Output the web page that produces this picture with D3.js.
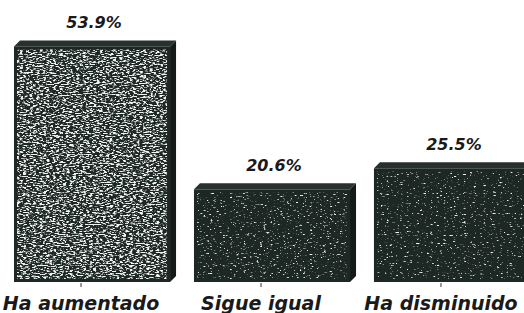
<!DOCTYPE html>
<html>
<head>
<meta charset="utf-8">
<script src="https://cdn.jsdelivr.net/npm/d3@7"></script>
<style>
  html, body { margin: 0; padding: 0; background: #fff; }
  svg { display: block; }
  .lbl { font-family: "DejaVu Sans", sans-serif; font-weight: bold; font-style: italic; fill: #1a1a1a; }
</style>
</head>
<body>
<div id="chart"></div>
<script>
const categories = ["Ha aumentado", "Sigue igual", "Ha disminuido"];
const values = [53.9, 20.6, 25.5];
const valueLabels = ["53.9%", "20.6%", "25.5%"];

const width = 524, height = 313;
const depth = 6;
const baseY = 282;

const svg = d3.select("#chart").append("svg")
  .attr("width", width).attr("height", height);

// scanned-print speckle: dense on the first bar, sparse on the others
const defs = svg.append("defs");
function speckle(id, seed, cut) {
  const f = defs.append("filter").attr("id", id)
    .attr("x", 0).attr("y", 0).attr("width", 1).attr("height", 1);
  f.append("feTurbulence").attr("type", "fractalNoise")
    .attr("baseFrequency", "0.3 0.9").attr("numOctaves", 3).attr("seed", seed).attr("result", "n");
  f.append("feColorMatrix").attr("in", "n").attr("type", "matrix")
    .attr("values", `0 0 0 0 0.88  0 0 0 0 0.9  0 0 0 0 0.89  6 0 0 0 ${-cut}`).attr("result", "w");
  f.append("feComposite").attr("in", "w").attr("in2", "SourceGraphic").attr("operator", "in");
}
speckle("sp0", 4, 2.85);
speckle("sp1", 9, 3.75);
speckle("sp2", 17, 3.85);

const x = d3.scaleBand().domain(categories).range([14, 530]).paddingInner(0.133).paddingOuter(0);
const y = d3.scaleLinear().domain([-1, 54]).range([baseY, 46]);

const bars = svg.append("g").selectAll("g.bar")
  .data(categories.map((c, i) => ({ c, v: values[i], label: valueLabels[i], i })))
  .join("g").attr("class", "bar");

const bw = x.bandwidth();

// right side face
bars.append("path")
  .attr("fill", "#141a18")
  .attr("d", (d) => {
    const x1 = x(d.c) + bw, yt = y(d.v);
    return `M${x1},${yt}L${x1 + depth},${yt - depth}L${x1 + depth},${baseY - depth}L${x1},${baseY}Z`;
  });

// top face
bars.append("path")
  .attr("fill", "#29312e")
  .attr("d", (d) => {
    const x0 = x(d.c), yt = y(d.v);
    return `M${x0},${yt}L${x0 + depth},${yt - depth}L${x0 + bw + depth},${yt - depth}L${x0 + bw},${yt}Z`;
  });

// front face
bars.append("rect")
  .attr("x", (d) => x(d.c)).attr("y", (d) => y(d.v))
  .attr("width", bw).attr("height", (d) => baseY - y(d.v))
  .attr("fill", "#1d2824");

bars.append("rect")
  .attr("x", (d) => x(d.c) + 3).attr("y", (d) => y(d.v) + 3)
  .attr("width", bw - 6).attr("height", (d) => baseY - y(d.v) - 6)
  .attr("fill", "#fff")
  .attr("filter", (d) => `url(#sp${d.i})`);

bars.append("text").attr("class", "lbl")
  .attr("x", (d) => x(d.c) + bw / 2 + 2)
  .attr("y", (d) => y(d.v) - 18)
  .attr("text-anchor", "middle")
  .style("font-size", "16px")
  .text((d) => d.label);

// category axis sits on the front floor edge, a little left of the bars
const xa = x.copy().range([3, 519]);
const axis = svg.append("g").attr("transform", `translate(0,${baseY + 1})`)
  .call(d3.axisBottom(xa).tickSizeInner(4).tickSizeOuter(0));
axis.select(".domain").remove();
axis.selectAll(".tick line").attr("stroke", "#333");
axis.selectAll(".tick text")
  .attr("class", "lbl").attr("y", 27).attr("dy", 0)
  .style("font-size", "19px")
  .attr("font-family", null).attr("fill", null);
</script>
</body>
</html>
